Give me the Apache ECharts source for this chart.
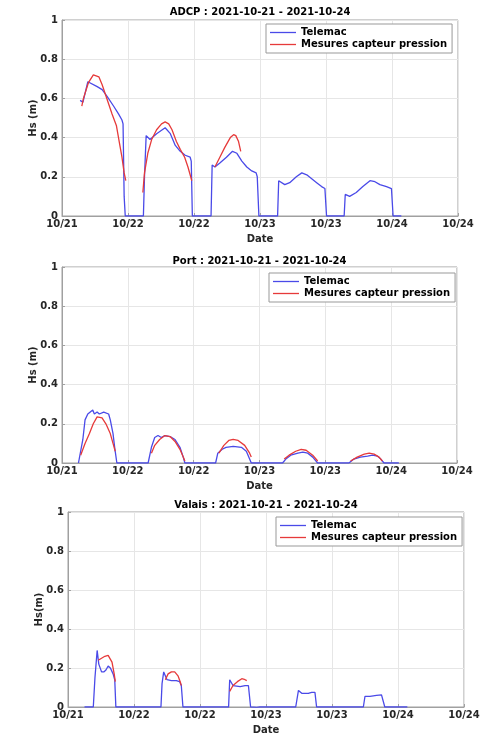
<!DOCTYPE html>
<html>
<head>
<meta charset="utf-8">
<script src="https://cdn.jsdelivr.net/npm/echarts@6/dist/echarts.min.js"></script>
<style>
  html, body { margin: 0; padding: 0; background: #fff; }
  #chart { width: 486px; height: 738px; }
</style>
</head>
<body>
<div id="chart"></div>
<script>
// hours since 2021-10-21 12:00, Hs in metres
const xLabels = ['10/21', '10/22', '10/22', '10/23', '10/23', '10/24', '10/24'];
const titles = ['ADCP : 2021-10-21 - 2021-10-24', 'Port : 2021-10-21 - 2021-10-24', 'Valais : 2021-10-21 - 2021-10-24'];
const yNames = ['Hs (m)', 'Hs (m)', 'Hs(m)'];

const adcpTelemac = [
  [3.3, 0.59], [3.8, 0.58], [4.7, 0.685], [6.4, 0.66], [7.3, 0.645], [8.2, 0.61], [9.4, 0.56],
  [10.3, 0.52], [10.9, 0.49], [11.1, 0.47], [11.3, 0.1], [11.5, 0], [14.8, 0], [15.0, 0.2],
  [15.3, 0.41], [16.0, 0.39], [17.2, 0.42], [18.75, 0.45], [19.7, 0.42], [20.6, 0.36], [21.5, 0.33],
  [22.4, 0.31], [23.3, 0.3], [23.5, 0.28], [23.7, 0], [27.1, 0], [27.3, 0.26], [27.8, 0.25],
  [28.7, 0.27], [29.9, 0.3], [31.0, 0.33], [31.8, 0.32], [32.7, 0.28], [33.6, 0.25], [34.5, 0.23],
  [35.3, 0.22], [35.5, 0.2], [35.8, 0], [39.2, 0], [39.4, 0.18], [40.5, 0.16], [41.4, 0.17],
  [42.6, 0.2], [43.6, 0.22], [44.5, 0.21], [45.4, 0.19], [46.3, 0.17], [47.2, 0.15], [47.8, 0.14],
  [48.1, 0], [51.3, 0], [51.5, 0.11], [52.3, 0.1], [53.5, 0.12], [54.7, 0.15], [56.0, 0.18],
  [56.9, 0.175], [57.8, 0.16], [59.0, 0.15], [59.9, 0.14], [60.2, 0], [61.7, 0]
];
const adcpMesures = [
  [3.6, 0.56], [3.9, 0.6], [4.8, 0.68], [5.7, 0.72], [6.0, 0.725], [6.7, 0.71], [7.3, 0.67],
  [7.9, 0.62], [8.5, 0.57], [9.1, 0.52], [9.9, 0.46], [10.4, 0.38], [10.9, 0.3], [11.3, 0.22],
  [11.6, 0.18], [13, null],
  [14.7, 0.12], [15.0, 0.22], [15.6, 0.32], [16.3, 0.39], [17.2, 0.44], [18.1, 0.47], [18.75, 0.48],
  [19.4, 0.47], [20.0, 0.44], [20.8, 0.38], [21.5, 0.34], [22.3, 0.3], [22.9, 0.25], [23.4, 0.2],
  [23.6, 0.18], [25, null],
  [27.8, 0.25], [28.7, 0.3], [29.6, 0.35], [30.6, 0.4], [31.2, 0.415], [31.6, 0.41], [32.1, 0.38],
  [32.5, 0.33]
];

const portTelemac = [
  [3.0, 0], [3.3, 0], [3.8, 0.12], [4.2, 0.22], [4.7, 0.25], [5.0, 0.26], [5.6, 0.27], [5.9, 0.25],
  [6.4, 0.26], [6.8, 0.25], [7.1, 0.24], [7.6, 0.26], [7.9, 0.265], [8.5, 0.25], [8.8, 0.22],
  [9.3, 0.15], [9.6, 0.08], [10.0, 0], [15.7, 0], [16.3, 0.08], [16.9, 0.13], [17.5, 0.14],
  [18.1, 0.13], [18.75, 0.14], [19.7, 0.135], [20.6, 0.12], [21.5, 0.08], [22.1, 0.03], [22.4, 0],
  [28.0, 0], [28.4, 0.05], [29.2, 0.07], [29.9, 0.08], [31.2, 0.085], [32.7, 0.08], [33.6, 0.06],
  [34.2, 0.02], [34.5, 0], [40.2, 0], [40.8, 0.02], [41.7, 0.04], [43.0, 0.05], [43.9, 0.055],
  [44.8, 0.05], [45.7, 0.03], [46.6, 0], [52.3, 0], [53.2, 0.02], [54.4, 0.03], [55.7, 0.035],
  [56.6, 0.04], [57.5, 0.035], [58.1, 0.02], [58.7, 0], [61.4, 0]
];
const portMesures = [
  [3.4, 0.04], [4.2, 0.1], [5.0, 0.15], [5.7, 0.2], [6.4, 0.235], [6.7, 0.245], [7.3, 0.23],
  [8.0, 0.2], [8.8, 0.15], [9.3, 0.1], [9.7, 0.06], [12, null],
  [16.3, 0.05], [16.9, 0.09], [17.8, 0.12], [18.75, 0.14], [19.7, 0.135], [20.6, 0.11], [21.5, 0.07],
  [22.1, 0.03], [22.4, 0.01], [25, null],
  [28.6, 0.05], [29.5, 0.09], [30.4, 0.115], [31.2, 0.12], [32.1, 0.115], [33.3, 0.09], [34.2, 0.05],
  [34.5, 0.03], [37, null],
  [40.5, 0.02], [41.4, 0.04], [42.6, 0.06], [43.6, 0.07], [44.5, 0.065], [45.7, 0.04], [46.6, 0.01],
  [49, null],
  [52.6, 0.01], [53.8, 0.03], [55.1, 0.045], [56.0, 0.05], [56.9, 0.045], [57.8, 0.03], [58.4, 0.01]
];

const valaisTelemac = [
  [3.0, 0], [4.6, 0], [4.9, 0.15], [5.3, 0.29], [5.6, 0.22], [6.1, 0.18], [6.5, 0.18], [6.9, 0.19],
  [7.3, 0.21], [7.7, 0.2], [8.2, 0.17], [8.5, 0.14], [8.7, 0], [16.9, 0], [17.1, 0.12], [17.4, 0.18],
  [18.0, 0.14], [18.8, 0.135], [19.7, 0.135], [20.3, 0.13], [20.6, 0.11], [20.9, 0], [29.2, 0],
  [29.4, 0.14], [30.0, 0.11], [30.3, 0.1], [31.3, 0.105], [32.2, 0.11], [32.8, 0.11], [32.9, 0.1],
  [33.2, 0], [34.3, -0.002], [34.9, 0], [41.4, 0], [41.9, 0.085], [42.5, 0.07], [43.7, 0.07],
  [44.3, 0.075], [44.9, 0.075], [45.2, 0], [53.7, 0], [54.0, 0.055], [54.9, 0.055], [56.1, 0.06],
  [57.0, 0.062], [57.3, 0.055], [57.6, 0], [61.7, 0]
];
const valaisMesures = [
  [5.5, 0.24], [6.1, 0.25], [6.7, 0.26], [7.3, 0.265], [7.6, 0.265], [8.0, 0.23], [8.4, 0.17],
  [8.6, 0.13], [12, null],
  [17.7, 0.14], [18.2, 0.17], [18.8, 0.18], [19.4, 0.18], [20.0, 0.16], [20.4, 0.13], [20.6, 0.11],
  [25, null],
  [29.4, 0.08], [30.0, 0.11], [30.8, 0.13], [31.6, 0.145], [32.2, 0.14], [32.5, 0.135]
];

const telemac = [adcpTelemac, portTelemac, valaisTelemac];
const mesures = [adcpMesures, portMesures, valaisMesures];

const FONT = 'DejaVu Sans';
const BLUE = '#4a4ae8';
const RED = '#e63a3a';
const grids = [
  { left: 62, top: 20, width: 396, height: 196 },
  { left: 62, top: 267, width: 395, height: 196 },
  { left: 68, top: 512, width: 396, height: 195 }
];
const titleTops = [7, 256, 500];
const legendPos = [[266, 24], [269, 273], [276, 517]];

const fix = d => d.map(p => [p[0], p[1] === null ? '-' : p[1]]);

const option = {
  animation: false,
  title: titles.map((t, i) => ({
    text: t,
    left: grids[i].left + grids[i].width / 2,
    top: titleTops[i],
    textAlign: 'center',
    padding: 0,
    textStyle: { fontFamily: FONT, fontSize: 10, fontWeight: 'bold', color: '#000' }
  })),
  legend: legendPos.map(p => ({
    data: [
      { name: 'Telemac', icon: 'rect', itemStyle: { color: BLUE } },
      { name: 'Mesures capteur pression', icon: 'rect', itemStyle: { color: RED } }
    ],
    orient: 'vertical',
    left: p[0],
    top: p[1],
    padding: [3, 5, 3, 4],
    itemGap: 1,
    itemWidth: 26,
    itemHeight: 1.3,
    backgroundColor: '#fff',
    borderColor: '#999',
    borderWidth: 1,
    borderRadius: 0,
    selectedMode: false,
    textStyle: { fontFamily: FONT, fontSize: 10, fontWeight: 'bold', color: '#000', lineHeight: 11 }
  })),
  grid: grids.map(g => Object.assign({ show: true, borderColor: '#a0a0a0', borderWidth: 1 }, g)),
  xAxis: grids.map((g, i) => ({
    type: 'value',
    gridIndex: i,
    min: 0,
    max: 72,
    interval: 12,
    name: 'Date',
    nameLocation: 'middle',
    nameGap: 18,
    nameMoveOverlap: false,
    nameTextStyle: { fontFamily: FONT, fontSize: 10, fontWeight: 'bold', color: '#262626' },
    axisLine: { lineStyle: { color: '#a0a0a0' } },
    axisTick: { inside: true, length: 3, lineStyle: { color: '#a0a0a0' } },
    splitLine: { lineStyle: { color: '#e6e6e6' } },
    axisLabel: {
      margin: 3,
      fontFamily: FONT, fontSize: 10, fontWeight: 'bold', color: '#262626',
      formatter: v => xLabels[Math.round(v / 12)]
    }
  })),
  yAxis: grids.map((g, i) => ({
    type: 'value',
    gridIndex: i,
    min: 0,
    max: 1,
    interval: 0.2,
    name: yNames[i],
    nameLocation: 'middle',
    nameGap: 24,
    nameMoveOverlap: false,
    nameTextStyle: { fontFamily: FONT, fontSize: 10, fontWeight: 'bold', color: '#262626' },
    axisLine: { show: true, lineStyle: { color: '#a0a0a0' } },
    axisTick: { show: true, inside: true, length: 3, lineStyle: { color: '#a0a0a0' } },
    splitLine: { lineStyle: { color: '#e6e6e6' } },
    axisLabel: { margin: 4, fontFamily: FONT, fontSize: 10, fontWeight: 'bold', color: '#262626' }
  })),
  series: []
};

for (let i = 0; i < 3; i++) {
  option.series.push({
    name: 'Telemac',
    type: 'line',
    xAxisIndex: i,
    yAxisIndex: i,
    symbol: 'none',
    color: BLUE,
    lineStyle: { width: 1.3, color: BLUE },
    data: telemac[i]
  });
  option.series.push({
    name: 'Mesures capteur pression',
    type: 'line',
    xAxisIndex: i,
    yAxisIndex: i,
    symbol: 'none',
    connectNulls: false,
    color: RED,
    lineStyle: { width: 1.3, color: RED },
    data: fix(mesures[i])
  });
}

const chart = echarts.init(document.getElementById('chart'), null, { renderer: 'canvas' });
chart.setOption(option);
</script>
</body>
</html>
